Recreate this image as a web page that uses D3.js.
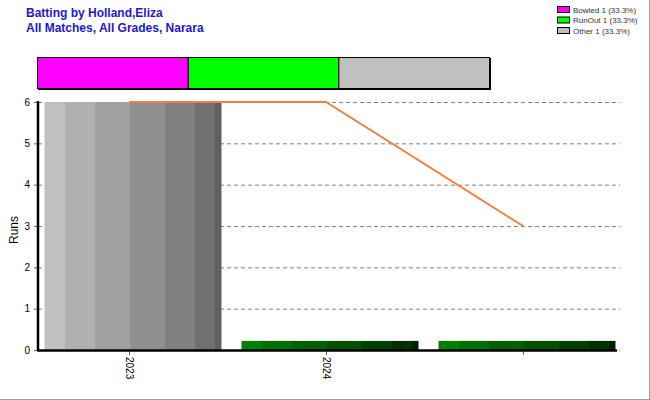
<!DOCTYPE html>
<html><head><meta charset="utf-8">
<script src="https://cdn.jsdelivr.net/npm/d3@7"></script>
<style>body{margin:0;background:#fff}svg{display:block;font-family:Arial,"Liberation Sans",sans-serif}</style>
</head><body><svg id="c" width="650" height="400"></svg>
<script>
const categories = ["2023", "2024", ""];
const barValues = [6, 0.22, 0.22];
const barKinds = ["gray", "green", "green"];
const lineValues = [6, 6, 3];
const yTicks = [0, 1, 2, 3, 4, 5, 6];
const dismissals = ["Bowled", "RunOut", "Other"];
const dismissalCounts = [1, 1, 1];
const dismissalColors = ["#ff00ff", "#00ff00", "#c0c0c0"];
const titleLines = ["Batting by Holland,Eliza", "All Matches, All Grades, Narara"];

const svg = d3.select("#c");
// outer border (right & bottom)
svg.append("line").attr("x1",649.5).attr("x2",649.5).attr("y1",0).attr("y2",400).attr("stroke","#a0a0a0");
svg.append("line").attr("x1",0).attr("x2",650).attr("y1",399.5).attr("y2",399.5).attr("stroke","#a0a0a0");

// title
svg.selectAll("text.title").data(titleLines).enter().append("text")
  .attr("x",26).attr("y",(d,i)=>17+i*14.5).attr("fill","#1a1acc")
  .attr("font-size",12).attr("font-weight","bold").text(d=>d);

// legend top right
const total = d3.sum(dismissalCounts);
const lg = svg.append("g");
dismissals.forEach((d,i)=>{
  lg.append("rect").attr("x",557.5).attr("y",6.5+i*10.5).attr("width",12).attr("height",6)
    .attr("fill",dismissalColors[i]).attr("stroke","#000");
  lg.append("text").attr("x",573).attr("y",12.5+i*10.5).attr("font-size",8).attr("fill","#333")
    .text(`${d} ${dismissalCounts[i]} (${(dismissalCounts[i]/total*100).toFixed(1)}%)`);
});

// dismissal bar
const px = d3.scaleLinear().domain([0,total]).range([37,489]);
let cum = 0;
const segs = dismissalCounts.map((c,i)=>{const s={x0:cum,x1:cum+c,color:dismissalColors[i]};cum+=c;return s;});
svg.append("rect").attr("x",px(0)+1).attr("y",58).attr("width",px(total)-px(0)+1).attr("height",32).attr("fill","#000");
svg.selectAll("rect.seg").data(segs).enter().append("rect")
  .attr("x",d=>px(d.x0)+0.5).attr("y",57.5).attr("width",d=>px(d.x1)-px(d.x0)).attr("height",31)
  .attr("fill",d=>d.color).attr("stroke","#000");

// scales
const x = d3.scaleBand().domain(categories.map((c,i)=>i)).range([30.5,621.5]).paddingInner(0.1).paddingOuter(0.05);
const y = d3.scaleLinear().domain([0,6]).range([350,102]);
const tickX = i => x(i) + x.bandwidth()/2;

// gradients (stepped)
const defs = svg.append("defs");
const stops = [0,0.115,0.285,0.483,0.681,0.85,0.962,1];
const grads = {
  gray:["#c0c0c0","#b0b0b0","#a0a0a0","#909090","#808080","#707070","#606060"],
  green:["#008000","#007000","#006000","#005000","#004000","#003000","#002000"]
};
Object.entries(grads).forEach(([k,cols])=>{
  const g = defs.append("linearGradient").attr("id","g_"+k).attr("x1","0").attr("x2","1").attr("y1","0").attr("y2","0");
  cols.forEach((c,i)=>{
    g.append("stop").attr("offset",stops[i]).attr("stop-color",c);
    g.append("stop").attr("offset",stops[i+1]).attr("stop-color",c);
  });
});

// gridlines
svg.selectAll("line.grid").data(yTicks).enter().append("line")
  .attr("x1",38).attr("x2",620).attr("y1",d=>y(d)+0.5).attr("y2",d=>y(d)+0.5)
  .attr("stroke","#808080").attr("stroke-dasharray","4,3");

// bars
const barW = 177;
svg.selectAll("rect.bar").data(barValues).enter().append("rect")
  .attr("x",(d,i)=>tickX(i)-84.5).attr("width",barW)
  .attr("y",d=>y(d)).attr("height",d=>y(0)-y(d))
  .attr("fill",(d,i)=>`url(#g_${barKinds[i]})`);

// line
svg.append("path").datum(lineValues)
  .attr("d",d3.line().x((d,i)=>tickX(i)).y(d=>y(d)))
  .attr("fill","none").attr("stroke","#f08040").attr("stroke-width",2);

// y axis
const ya = svg.append("g").attr("transform","translate(38,0)")
  .call(d3.axisLeft(y).tickValues(yTicks).tickSize(4).tickFormat(d3.format("d")));
ya.select(".domain").remove();
ya.selectAll("line").attr("stroke","#666");
ya.selectAll("text").attr("font-size",10).attr("fill","#000").attr("font-family","Arial,'Liberation Sans',sans-serif").attr("dx",-1);
svg.append("line").attr("x1",38).attr("x2",38).attr("y1",101).attr("y2",351).attr("stroke","#000").attr("stroke-width",2.5);

// x axis
const xa = svg.append("g").attr("transform","translate(0,350)")
  .call(d3.axisBottom(d3.scaleOrdinal().domain(categories.map((c,i)=>i)).range(categories.map((c,i)=>tickX(i))))
    .tickSize(5).tickFormat(i=>categories[i]));
xa.select(".domain").remove();
xa.selectAll("line").attr("stroke","#666");
xa.selectAll("text").attr("font-size",10).attr("fill","#000").attr("font-family","Arial,'Liberation Sans',sans-serif")
  .attr("transform","rotate(90)").attr("text-anchor","start").attr("x",7).attr("y",0).attr("dy","0.35em");
svg.append("line").attr("x1",37).attr("x2",617).attr("y1",350.5).attr("y2",350.5).attr("stroke","#000").attr("stroke-width",2.5);

// y label
svg.append("text").attr("transform","translate(18,230) rotate(-90)").attr("text-anchor","middle")
  .attr("font-size",12).attr("fill","#000").text("Runs");
</script></body></html>
